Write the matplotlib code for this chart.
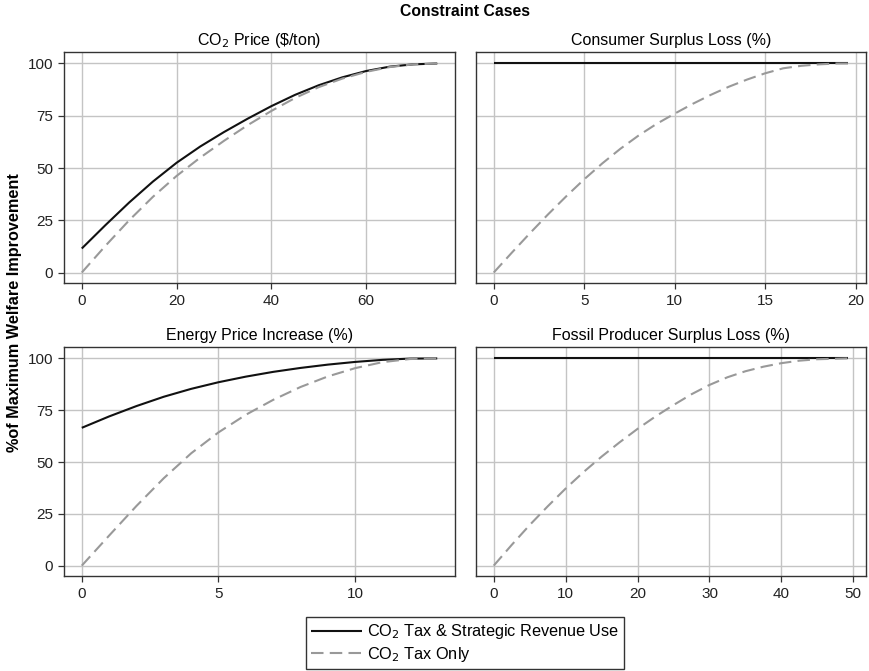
import matplotlib
matplotlib.use("Agg")
import matplotlib.pyplot as plt

plt.rcParams["font.family"] = ["Liberation Sans", "DejaVu Sans"]
plt.rcParams["font.size"] = 11

# Panel titles
titles = [
    r"CO$_2$ Price (\$/ton)",
    "Consumer Surplus Loss (%)",
    "Energy Price Increase (%)",
    "Fossil Producer Surplus Loss (%)",
]
series_labels = [r"CO$_2$ Tax & Strategic Revenue Use", r"CO$_2$ Tax Only"]

# CO2 price panel
co2_x = [0, 5, 10, 15, 20, 25, 30, 35, 40, 45, 50, 55, 60, 65, 70, 75]
co2_strategic = [11.5, 22.7, 33.5, 43.5, 52.5, 60.3, 67.2, 73.6, 79.6, 85, 89.6, 93.4,
                 96.4, 98.5, 99.6, 100]
co2_tax_only = [0, 12.8, 25, 36.2, 46.2, 55, 63, 70.5, 77.3, 83.5, 88.7, 92.8, 96,
                98.3, 99.6, 100]

# Consumer surplus loss panel
cs_x = [0, 1, 2, 3, 4, 5, 6, 7, 8, 9, 10, 11, 12, 13, 14, 15, 16, 17, 18, 19, 19.6]
cs_strategic = [100] * len(cs_x)
cs_tax_only = [0, 9.5, 18.8, 27.8, 36.4, 44.6, 52.2, 59.2, 65.5, 71.1, 76, 80.7, 85,
               88.9, 92.3, 95.3, 97.7, 98.9, 99.6, 100, 100]

# Energy price increase panel
ep_x = [0, 1, 2, 3, 4, 5, 6, 7, 8, 9, 10, 11, 12, 13]
ep_strategic = [66.5, 72, 77, 81.5, 85.3, 88.5, 91.2, 93.5, 95.4, 97, 98.3, 99.3, 99.9, 100]
ep_tax_only = [0, 14.5, 28.8, 42.2, 54.2, 64.3, 72.8, 80, 86.2, 91.3, 95.3, 98.2, 99.7, 100]

# Fossil producer surplus loss panel
fp_x = [0, 2.5, 5, 7.5, 10, 12.5, 15, 17.5, 20, 22.5, 25, 27.5, 30, 32.5, 35, 37.5,
        40, 42.5, 45, 49.3]
fp_strategic = [100] * len(fp_x)
fp_tax_only = [0, 10, 19.6, 28.6, 37.2, 45.2, 52.6, 59.5, 66, 72, 77.5, 82.7, 87.2,
               90.9, 93.8, 96, 97.7, 98.9, 99.6, 100]

panels = [
    (co2_x, co2_strategic, co2_tax_only, [0, 20, 40, 60]),
    (cs_x, cs_strategic, cs_tax_only, [0, 5, 10, 15, 20]),
    (ep_x, ep_strategic, ep_tax_only, [0, 5, 10]),
    (fp_x, fp_strategic, fp_tax_only, [0, 10, 20, 30, 40, 50]),
]

W, H = 869, 671
fig = plt.figure(figsize=(W / 100, H / 100), dpi=100)

# axes boxes in pixels: left, top, right, bottom
boxes = [
    (64, 52, 455, 283),
    (476, 52, 866, 283),
    (64, 347, 455, 576),
    (476, 347, 866, 576),
]

lines = []
for i, ((x, y_s, y_t, xt), box) in enumerate(zip(panels, boxes)):
    l, t, r, b = box
    ax = fig.add_axes([l / W, 1 - b / H, (r - l) / W, (b - t) / H])
    ax.grid(True, color="#c4c4c4", linewidth=1.0)
    ax.set_axisbelow(True)
    h1, = ax.plot(x, y_s, color="#111111", linewidth=1.5, solid_capstyle="butt")
    h2, = ax.plot(x, y_t, color="#999999", linewidth=1.5, linestyle=(0, (6, 3)))
    lines = [h1, h2]
    ax.margins(x=0.05)
    ax.set_ylim(-5, 105.5)
    ax.set_yticks([0, 25, 50, 75, 100])
    ax.set_xticks(xt)
    ax.set_title(titles[i], fontsize=11.5, pad=5)
    for s in ax.spines.values():
        s.set_color("#333333")
        s.set_linewidth(1.0)
    ax.tick_params(direction="out", length=4.5, width=0.9, color="#333333",
                   labelsize=11, labelcolor="#222222")
    if i % 2 == 1:
        ax.tick_params(axis="y", left=False, labelleft=False)

fig.text(465 / W, 1 - 11 / H, "Constraint Cases", ha="center", va="center",
         fontsize=11.3, fontweight="bold")
fig.text(15 / W, 1 - 313 / H, "%of Maximum Welfare Improvement", ha="center",
         va="center", rotation=90, fontsize=11.7, fontweight="bold")

leg = fig.legend(lines, series_labels, loc="lower center",
                 bbox_to_anchor=(465 / W, 0.0), fontsize=11.7, frameon=True,
                 fancybox=False, edgecolor="#333333", framealpha=1,
                 handlelength=3.1, handletextpad=0.3, borderpad=0.35,
                 borderaxespad=0.1, labelspacing=0.2)
leg.get_frame().set_linewidth(1.0)

fig.savefig("out.png", dpi=100)
